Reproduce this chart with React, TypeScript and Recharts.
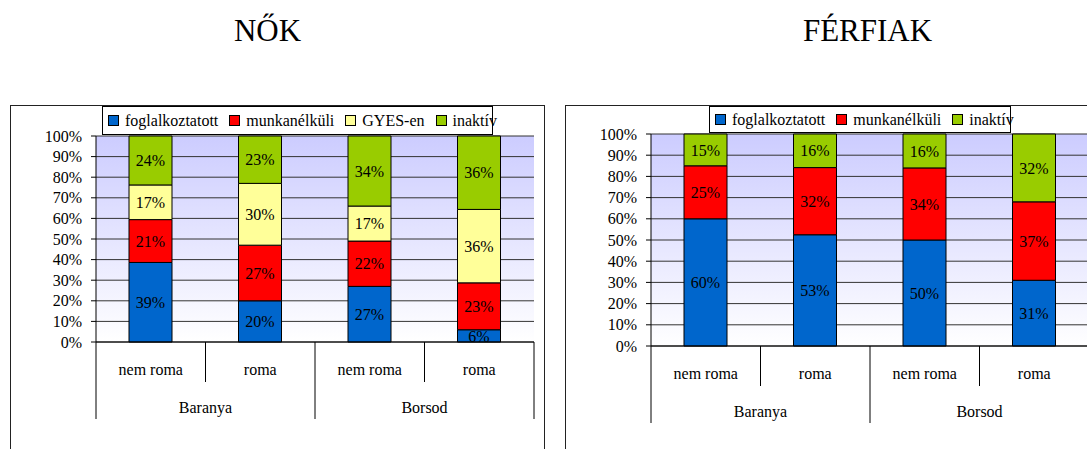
import React from "react";
import {
  BarChart,
  Bar,
  XAxis,
  YAxis,
  CartesianGrid,
  LabelList,
} from "recharts";

const categories = ["nem roma", "roma", "nem roma", "roma"];
const regions = ["Baranya", "Baranya", "Borsod", "Borsod"];

// NŐK
const nokFoglalkoztatott = [39, 20, 27, 6];
const nokMunkanelkuli = [21, 27, 22, 23];
const nokGyes = [17, 30, 17, 36];
const nokInaktiv = [24, 23, 34, 36];

// FÉRFIAK
const ferfiFoglalkoztatott = [60, 53, 50, 31];
const ferfiMunkanelkuli = [25, 32, 34, 37];
const ferfiInaktiv = [15, 16, 16, 32];

const yTicks = [0, 0.1, 0.2, 0.3, 0.4, 0.5, 0.6, 0.7, 0.8, 0.9, 1];

const FONT = '"Liberation Serif", "Times New Roman", serif';
const PLOT_W = 438;
const BAND = PLOT_W / categories.length;

type Series = { key: string; name: string; color: string };

const nokSeries: Series[] = [
  { key: "fog", name: "foglalkoztatott", color: "#0066cc" },
  { key: "mun", name: "munkanélküli", color: "#ff0000" },
  { key: "gyes", name: "GYES-en", color: "#ffff99" },
  { key: "ina", name: "inaktív", color: "#99cc00" },
];

const ferfiSeries: Series[] = [
  { key: "fog", name: "foglalkoztatott", color: "#0066cc" },
  { key: "mun", name: "munkanélküli", color: "#ff0000" },
  { key: "ina", name: "inaktív", color: "#99cc00" },
];

const nokData = categories.map((c, i) => ({
  cat: i,
  fog: nokFoglalkoztatott[i],
  mun: nokMunkanelkuli[i],
  gyes: nokGyes[i],
  ina: nokInaktiv[i],
}));

const ferfiData = categories.map((c, i) => ({
  cat: i,
  fog: ferfiFoglalkoztatott[i],
  mun: ferfiMunkanelkuli[i],
  ina: ferfiInaktiv[i],
}));

function CatTick(props: any) {
  const { x, y, index } = props;
  const half = BAND / 2;
  const longEnd = index % 2 === 1;
  return (
    <g>
      {index === 0 && (
        <line x1={x - half} y1={y} x2={x - half} y2={y + 77} stroke="#000" />
      )}
      <line
        x1={x + half}
        y1={y}
        x2={x + half}
        y2={y + (longEnd ? 77 : 40)}
        stroke="#000"
      />
      <text
        x={x}
        y={y + 33}
        textAnchor="middle"
        fontFamily={FONT}
        fontSize={16}
        fill="#000"
      >
        {categories[index]}
      </text>
      {index % 2 === 0 && (
        <text
          x={x + half}
          y={y + 71}
          textAnchor="middle"
          fontFamily={FONT}
          fontSize={16}
          fill="#000"
        >
          {regions[index]}
        </text>
      )}
    </g>
  );
}

function Legend({ series, left, top, width, height }: { series: Series[]; left: number; top: number; width: number; height: number }) {
  return (
    <div
      style={{
        position: "absolute",
        left,
        top,
        width,
        height,
        boxSizing: "border-box",
        border: "1px solid #000",
        background: "#fff",
        display: "flex",
        alignItems: "center",
        paddingLeft: 5,
        fontFamily: FONT,
        fontSize: 16,
        whiteSpace: "nowrap",
      }}
    >
      {series.map((s) => (
        <span key={s.key} style={{ display: "flex", alignItems: "center", marginRight: 11 }}>
          <span
            style={{
              display: "inline-block",
              width: 9,
              height: 9,
              background: s.color,
              border: "1px solid #000",
              marginRight: 6,
            }}
          />
          {s.name}
        </span>
      ))}
    </div>
  );
}

function Panel({ data, series, top, gradId }: { data: any[]; series: Series[]; top: number; gradId: string }) {
  return (
    <BarChart
      width={545}
      height={449}
      data={data}
      stackOffset="expand"
      barSize={43}
      margin={{ top, right: 11, left: 36, bottom: 449 - top - 206 - 100 + (top === 134 ? -6 : 0) }}
    >
      <defs>
        <linearGradient id={gradId} x1="0" y1="0" x2="0" y2="1">
          <stop offset="0%" stopColor="#ccccff" />
          <stop offset="100%" stopColor="#ffffff" />
        </linearGradient>
      </defs>
      <CartesianGrid vertical={false} stroke="#333" fill={`url(#${gradId})`} fillOpacity={1} />
      <XAxis
        dataKey="cat"
        type="category"
        height={100}
        tickLine={false}
        tickSize={0}
        tickMargin={0}
        axisLine={{ stroke: "#000" }}
        interval={0}
        tick={(p: any) => <CatTick {...p} />}
      />
      <YAxis
        width={60}
        domain={[0, 1]}
        ticks={yTicks}
        interval={0}
        tickSize={5}
        tickMargin={9}
        tickLine={{ stroke: "#000" }}
        axisLine={{ stroke: "#000" }}
        tickFormatter={(v: number) => `${Math.round(v * 100)}%`}
        tick={{ fontFamily: FONT, fontSize: 16, fill: "#000" }}
      />
      <YAxis
        yAxisId="r"
        orientation="right"
        width={0}
        tick={false}
        tickLine={false}
        axisLine={{ stroke: "#888" }}
      />
      {series.map((s) => (
        <Bar
          key={s.key}
          dataKey={s.key}
          name={s.name}
          stackId="a"
          fill={s.color}
          stroke="#000"
          strokeWidth={1}
          isAnimationActive={false}
        >
          <LabelList
            dataKey={s.key}
            position="center"
            formatter={(v: any) => `${v}%`}
            style={{ fontFamily: FONT, fontSize: 16, fill: "#000" }}
          />
        </Bar>
      ))}
    </BarChart>
  );
}

export default function App() {
  return (
    <div
      style={{
        position: "absolute",
        left: 0,
        top: 0,
        width: 1087,
        height: 449,
        overflow: "hidden",
        background: "#fff",
        fontFamily: FONT,
      }}
    >
      <div style={{ position: "absolute", left: 0, width: 535, top: 13, textAlign: "center", fontSize: 31 }}>NŐK</div>
      <div style={{ position: "absolute", left: 600, width: 535, top: 13, textAlign: "center", fontSize: 31 }}>FÉRFIAK</div>

      <div style={{ position: "absolute", left: 10, top: 105, width: 535, height: 360, border: "1px solid #222", boxSizing: "border-box" }} />
      <div style={{ position: "absolute", left: 565, top: 105, width: 560, height: 360, border: "1px solid #222", boxSizing: "border-box" }} />

      <div style={{ position: "absolute", left: 0, top: 0 }}>
        <Panel data={nokData} series={nokSeries} top={136} gradId="gradNok" />
      </div>
      <div style={{ position: "absolute", left: 555, top: 0 }}>
        <Panel data={ferfiData} series={ferfiSeries} top={134} gradId="gradFerfi" />
      </div>

      <Legend series={nokSeries} left={102} top={106} width={391} height={29} />
      <Legend series={ferfiSeries} left={709} top={106} width={302} height={27} />
    </div>
  );
}
